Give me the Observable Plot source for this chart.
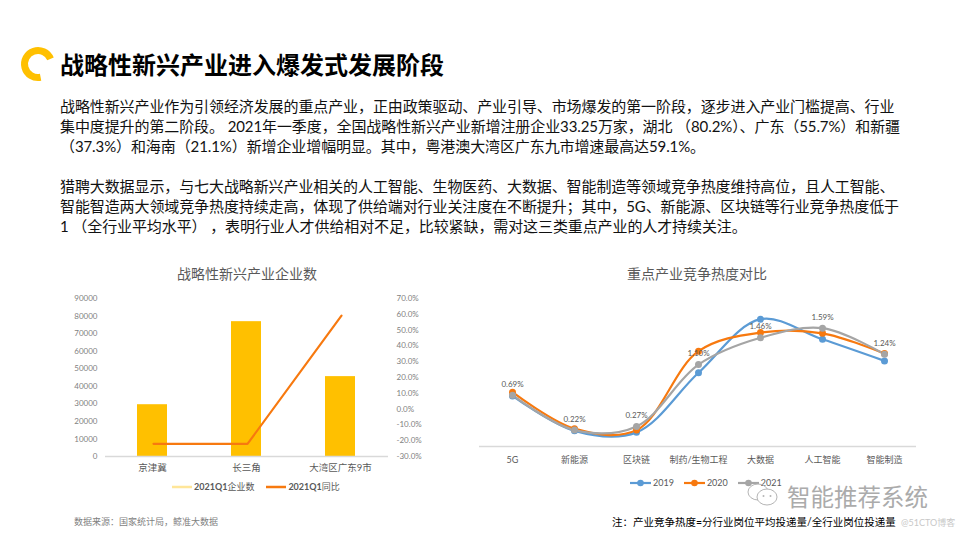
<!DOCTYPE html>
<html><head><meta charset="utf-8">
<script src="https://cdn.jsdelivr.net/npm/d3@7"></script>
<script src="https://cdn.jsdelivr.net/npm/@observablehq/plot@0.6"></script>
<style>
  html,body{margin:0;padding:0;background:#fff;}
  #page{position:relative;width:960px;height:540px;overflow:hidden;background:#fff;font-family:Lato,"Noto Sans CJK SC",sans-serif;}
  .abs{position:absolute;white-space:nowrap;}
  .para{font-size:15px;line-height:20px;color:#111;letter-spacing:-0.1px;}
  .ctitle{font-size:14px;color:#595959;transform:translateX(-50%);line-height:16px;}
  .leg{font-size:9px;color:#595959;line-height:12px;display:flex;align-items:center;}
  .leg svg{margin-right:2px;}
  .plotwrap{position:absolute;}
</style>
</head><body>
<div id="page">
  <svg class="abs" style="left:18px;top:44px" width="42" height="42" viewBox="0 0 42 42">
    <path d="M 32.5 14.9 A 13.5 13.5 0 1 0 22.6 33.3" fill="none" stroke="#FFC000" stroke-width="7"/>
  </svg>
  <div class="abs" style="left:60px;top:49px;font-size:24px;line-height:30px;font-weight:700;color:#000;font-family:'Noto Sans CJK SC',sans-serif;">战略性新兴产业进入爆发式发展阶段</div>

  <div class="abs para" style="left:60px;top:96px;">战略性新兴产业作为引领经济发展的重点产业，正由政策驱动、产业引导、市场爆发的第一阶段，逐步进入产业门槛提高、行业</div>
  <div class="abs para" style="left:60px;top:116px;">集中度提升的第二阶段。 2021年一季度，全国战略性新兴产业新增注册企业33.25万家，湖北 （80.2%）、广东（55.7%）和新疆</div>
  <div class="abs para" style="left:60px;top:136px;">（37.3%）和海南（21.1%）新增企业增幅明显。其中，粤港澳大湾区广东九市增速最高达59.1%。</div>
  <div class="abs para" style="left:60px;top:176px;">猎聘大数据显示，与七大战略新兴产业相关的人工智能、生物医药、大数据、智能制造等领域竞争热度维持高位，且人工智能、</div>
  <div class="abs para" style="left:60px;top:196px;">智能智造两大领域竞争热度持续走高，体现了供给端对行业关注度在不断提升；其中，5G、新能源、区块链等行业竞争热度低于</div>
  <div class="abs para" style="left:60px;top:216px;">1 （全行业平均水平） ，表明行业人才供给相对不足，比较紧缺，需对这三类重点产业的人才持续关注。</div>

  <div class="abs ctitle" style="left:247px;top:266px;">战略性新兴产业企业数</div>
  <div class="abs ctitle" style="left:697px;top:266px;">重点产业竞争热度对比</div>

  <div class="plotwrap" id="leftBars" style="left:50px;top:290px;"></div>
  <div class="plotwrap" id="leftLine" style="left:50px;top:290px;"></div>
  <div class="plotwrap" id="rightChart" style="left:470px;top:290px;"></div>

  <div class="abs leg" style="left:172px;top:481px;">
    <svg width="20" height="6"><line x1="0" y1="3" x2="20" y2="3" stroke="#FFE699" stroke-width="2.5"/></svg>
    <span><b>2021Q1</b>企业数</span>
    <svg width="20" height="6" style="margin-left:12px"><line x1="0" y1="3" x2="20" y2="3" stroke="#F7790F" stroke-width="2.5"/></svg>
    <span><b>2021Q1</b>同比</span>
  </div>

  <div class="abs leg" id="rightLegend" style="left:630px;top:477px;"></div>

  <div class="abs" style="left:74px;top:516px;font-size:9px;line-height:12px;color:#7f7f7f;">数据来源：国家统计局，鲸准大数据</div>

  <div class="abs" style="left:901px;top:517px;font-size:9px;line-height:12px;color:#c8c8c8;">@51CTO博客</div>
  <svg class="abs" style="left:746px;top:482px" width="34" height="26" viewBox="0 0 34 26">
    <ellipse cx="12" cy="10" rx="10" ry="8" fill="none" stroke="#b5b5b5" stroke-width="1"/>
    <ellipse cx="21" cy="15" rx="10" ry="8" fill="#fff" stroke="#b5b5b5" stroke-width="1"/>
    <circle cx="17.5" cy="14" r="1" fill="#b5b5b5"/><circle cx="24.5" cy="14" r="1" fill="#b5b5b5"/>
  </svg>
  <div class="abs" style="left:787px;top:482px;font-size:23.5px;line-height:28px;color:#ababab;font-family:'Noto Sans CJK SC',sans-serif;">智能推荐系统</div>
  <div class="abs" style="left:612px;top:515px;font-size:10.5px;line-height:14px;color:#000;">注：产业竞争热度=分行业岗位平均投递量/全行业岗位投递量</div>
</div>

<script>
// ---------- Data ----------
const regions = ["京津冀", "长三角", "大湾区广东9市"];
const companyCounts = [29500, 76800, 45500];
const yoyGrowth = [-22.0, -22.0, 59.1];

const industries = ["5G", "新能源", "区块链", "制药/生物工程", "大数据", "人工智能", "智能制造"];
const heat2019 = [0.68, 0.21, 0.19, 0.99, 1.71, 1.44, 1.15];
const heat2020 = [0.73, 0.24, 0.22, 1.28, 1.53, 1.52, 1.25];
const heat2021 = [0.69, 0.22, 0.27, 1.10, 1.46, 1.59, 1.24];
const seriesNames = ["2019", "2020", "2021"];
const seriesColors = ["#5B9BD5", "#F7790F", "#A5A5A5"];

const FONT = 'Lato, "Noto Sans CJK SC", sans-serif';

// ---------- Left chart ----------
const leftData = regions.map((r, i) => ({region: r, count: companyCounts[i], yoy: yoyGrowth[i]}));
const dims = {width: 380, height: 190, marginLeft: 55, marginRight: 42, marginTop: 8, marginBottom: 24};

const bars = Plot.plot({
  ...dims,
  style: {fontFamily: FONT, background: "transparent", overflow: "visible"},
  x: {domain: regions, paddingInner: 0.68, paddingOuter: 0.34, label: null},
  y: {domain: [0, 90000], label: null},
  marks: [
    Plot.barY(leftData, {x: "region", y: "count", fill: "#FFC000"}),
    Plot.ruleY([0], {stroke: "#d9d9d9", strokeWidth: 1.5}),
    Plot.axisY({ticks: 9, tickSize: 0, tickPadding: 8, fontSize: 8, color: "#7f7f7f", tickFormat: d => String(d), label: null}),
    Plot.axisX({tickSize: 0, tickPadding: 8, fontSize: 9.5, color: "#595959", label: null})
  ]
});
document.getElementById("leftBars").appendChild(bars);

const line = Plot.plot({
  ...dims,
  style: {fontFamily: FONT, background: "transparent", overflow: "visible"},
  x: {type: "point", domain: regions, padding: 0.5, axis: null},
  y: {domain: [-30, 70], label: null},
  marks: [
    Plot.lineY(leftData, {x: "region", y: "yoy", stroke: "#F7790F", strokeWidth: 2.2}),
    Plot.axisY({anchor: "right", ticks: 10, tickSize: 0, tickPadding: 8, fontSize: 8, color: "#7f7f7f", tickFormat: d => d.toFixed(1) + "%", label: null})
  ]
});
document.getElementById("leftLine").appendChild(line);

// ---------- Right chart ----------
const heatSeries = [heat2019, heat2020, heat2021];
const heatData = [];
heatSeries.forEach((arr, s) => arr.forEach((v, i) => heatData.push({industry: industries[i], value: v, series: seriesNames[s]})));

const right = Plot.plot({
  width: 460, height: 180, marginLeft: 9, marginRight: 14, marginTop: 22, marginBottom: 24,
  style: {fontFamily: FONT, background: "transparent", overflow: "visible"},
  x: {type: "point", domain: industries, padding: 0.5, label: null},
  y: {domain: [0, 1.8], axis: null},
  color: {domain: seriesNames, range: seriesColors},
  marks: [
    Plot.ruleY([0], {stroke: "#d9d9d9", strokeWidth: 1.5}),
    ...seriesNames.map(name => Plot.lineY(heatData.filter(d => d.series === name), {x: "industry", y: "value", stroke: "series", strokeWidth: 2.2, curve: "catmull-rom"})),
    ...seriesNames.map(name => Plot.dot(heatData.filter(d => d.series === name), {x: "industry", y: "value", fill: "series", r: 3.5})),
    Plot.text(heatData.filter(d => d.series === "2021"), {x: "industry", y: "value", text: d => d.value.toFixed(2) + "%", dy: -11, fontSize: 8, fill: "#595959"}),
    Plot.axisX({tickSize: 0, tickPadding: 10, fontSize: 9, color: "#595959", label: null})
  ]
});
document.getElementById("rightChart").appendChild(right);

// right legend
const legend = document.getElementById("rightLegend");
seriesNames.forEach((name, i) => {
  const item = document.createElement("span");
  item.style.display = "flex"; item.style.alignItems = "center"; item.style.marginRight = "10px";
  item.innerHTML = `<svg width="21" height="8"><line x1="0" y1="4" x2="21" y2="4" stroke="${seriesColors[i]}" stroke-width="2.2"/><circle cx="10.5" cy="4" r="3.3" fill="${seriesColors[i]}"/></svg><span>${name}</span>`;
  legend.appendChild(item);
});
</script>
</body></html>
